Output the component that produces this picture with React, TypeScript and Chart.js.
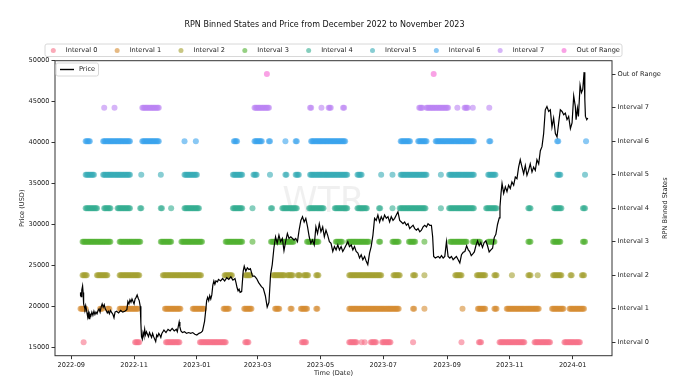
import React, { useEffect, useRef } from 'react';
import { Chart, registerables } from 'chart.js';

Chart.register(...registerables);

// ---------- DATA ----------
const TITLE = 'RPN Binned States and Price from December 2022 to November 2023';
const X_TITLE = 'Time (Date)';
const Y_TITLE = 'Price (USD)';
const Y2_TITLE = 'RPN Binned States';
const WATERMARK = 'WTR';

const STATE_LABELS = ['Interval 0', 'Interval 1', 'Interval 2', 'Interval 3', 'Interval 4', 'Interval 5', 'Interval 6', 'Interval 7', 'Out of Range'];
const STATE_COLORS = ['#f77189', '#d58c32', '#a4a031', '#50b131', '#34ae91', '#37abb5', '#3ba3ec', '#bb83f4', '#f564d4'];

// x values are days since 2022-09-01
const X_TICK_LABELS = ['2022-09', '2022-11', '2023-01', '2023-03', '2023-05', '2023-07', '2023-09', '2023-11', '2024-01'];
const X_TICK_DAYS = [0, 61, 122, 181, 242, 303, 365, 426, 487];
const X_RANGE = [-15.8, 525.2];

const PRICE_TICKS = [15000, 20000, 25000, 30000, 35000, 40000, 45000, 50000];
const PRICE_RANGE = [13975, 50000];
const STATE_RANGE = [-0.4, 8.4];

// [day, price USD]
const PRICE_SERIES = [
  [8.5, 21300], [9, 21700], [9.6, 21200], [10.2, 22000], [11, 22500], [11.5, 21700], [12, 20300], [12.6, 20000],
  [13.3, 19700], [14, 20100], [15, 19400], [16, 18700], [16.6, 19200], [17.3, 18500], [18, 19100], [19, 18800],
  [20, 19300], [21, 18900], [22, 19400], [23, 19000], [24, 19300], [25, 19100], [26, 19500], [27, 19700],
  [28, 19300], [29, 19900], [30, 20300], [31, 19900], [32, 20200], [33, 19700], [34, 19500], [35, 19200],
  [36, 19400], [37, 19100], [38, 19500], [39, 19300], [40.5, 19000], [41.5, 18600], [42.5, 19300], [44, 19400],
  [46, 19200], [48, 19500], [50, 19300], [52, 19400], [54, 19600], [55, 20600], [56, 20300], [57, 20800],
  [58, 20500], [59, 20900], [60, 20600], [61, 20300], [62, 20900], [63, 21100], [64, 21400], [65, 21000],
  [66, 20700], [67, 20000], [67.6, 18000], [68.2, 16300], [69, 16000], [69.7, 16800], [70.5, 16400], [71.3, 17200],
  [72, 16500], [73, 16900], [74, 16600], [75, 16300], [76, 16800], [77, 16500], [78, 16200], [79, 16700],
  [80, 16300], [81, 16000], [82, 15700], [83, 16500], [84, 16300], [85, 16700], [86, 16500], [87, 16200],
  [88, 16700], [89, 16900], [90, 17100], [92, 16800], [94, 17200], [96, 17000], [98, 17300], [100, 17000],
  [102, 17200], [103, 16900], [104, 17600], [104.8, 18100], [105.5, 17500], [106.5, 17000], [108, 16800], [110, 16900],
  [112, 16700], [114, 16800], [116, 16700], [118, 16800], [120, 16600], [122, 16500], [124, 16700], [126, 16800],
  [127.5, 17000], [128.5, 17600], [129.5, 18200], [130.5, 19400], [131.5, 20700], [132.5, 21100], [133.5, 20700], [134.5, 21300],
  [135.5, 20900], [136.5, 21400], [137.5, 22600], [138.5, 23100], [139.5, 22700], [140.5, 23100], [142, 23000], [143, 23300],
  [145, 23100], [147, 23400], [149, 23100], [151, 23500], [153, 23300], [155, 23600], [157, 23200], [159, 23400],
  [160, 22900], [161, 22300], [162, 21900], [163, 22100], [164, 21700], [165.5, 21800], [167, 24300], [168, 24900],
  [169.5, 24300], [171, 24700], [172.5, 24500], [174, 24600], [176, 23700], [178, 23700], [180, 23400], [182, 22900],
  [184.7, 22400], [186.5, 22200], [188.5, 21300], [190.3, 19900], [192, 20500], [193.6, 23900], [195.2, 25100], [196.8, 27100],
  [198.4, 28500], [200, 27700], [201.7, 28700], [203.3, 27900], [205, 28300], [206.6, 26800], [208.2, 27900], [209.9, 28900],
  [211.5, 28300], [213.2, 28500], [216.4, 28100], [218, 28300], [219.7, 27900], [221.3, 29300], [223, 30500], [224.6, 30950],
  [226.2, 30300], [227.8, 30750], [229.5, 29700], [231.1, 28500], [232.7, 27700], [234.3, 28100], [236, 27500], [237.6, 29700],
  [239.2, 28900], [240.9, 30100], [242.5, 29100], [244.2, 29700], [245.8, 28500], [247.4, 29300], [249, 28700], [250.7, 27900],
  [252.3, 27700], [254, 26700], [255.6, 27300], [257.2, 26900], [258.9, 27500], [260.5, 26900], [262.1, 27300], [263.7, 26700],
  [265.4, 27100], [267, 27500], [268.6, 27900], [270.2, 27300], [271.9, 27500], [273.5, 26900], [275.1, 27300], [276.7, 26700],
  [278.4, 26500], [280, 25900], [281.6, 26300], [283.2, 25700], [284.9, 26100], [286.5, 25500], [288, 25100], [289.7, 26500],
  [291.3, 27300], [293, 28700], [294.6, 30750], [296.2, 30500], [297.8, 31150], [299.5, 30300], [301.1, 30950], [302.7, 30500],
  [304.3, 31150], [306, 30750], [307.6, 30950], [309.2, 30300], [310.8, 30950], [312.5, 30500], [314.1, 30750], [315.7, 31150],
  [317.3, 31550], [319, 30500], [320.6, 30300], [322.2, 30100], [323.8, 30300], [325.5, 29900], [327.1, 30100], [328.7, 29500],
  [330.3, 29700], [332, 29900], [333.6, 29500], [335.2, 29300], [336.8, 29500], [338.5, 29100], [340.1, 29300], [341.7, 29700],
  [343.3, 29900], [345, 29700], [346.5, 30100], [348.2, 29900], [349.8, 29900], [351, 28500], [352, 26100], [353.6, 25900],
  [356.3, 26100], [358, 25900], [359.6, 26200], [361.2, 25900], [362.8, 26100], [364.4, 27900], [366, 26100], [367.7, 25900],
  [369.3, 26100], [370.9, 25700], [372.5, 25900], [374.1, 26100], [375.8, 25700], [377.4, 25300], [379, 26300], [380.7, 26600],
  [382.3, 26700], [384, 27400], [385.6, 26900], [387, 26700], [388.5, 26200], [390, 26400], [391.5, 26650], [393, 27400],
  [394.6, 28000], [396.2, 27400], [397.8, 27800], [399.4, 27200], [401, 27800], [402.7, 28000], [404.3, 27400], [405.9, 26650],
  [407.6, 26900], [409.2, 27100], [410.8, 28400], [412.4, 28800], [414, 30000], [415.7, 30800], [416.4, 32170], [417.4, 33800],
  [418.4, 35000], [420, 33800], [421.6, 34600], [423.2, 34000], [424.8, 34800], [426.4, 34400], [428, 35200], [429.7, 34800],
  [431.3, 35800], [432.9, 35600], [434.5, 37000], [436.1, 37900], [437.8, 37000], [439.4, 36200], [441, 37200], [442.6, 36000],
  [444.2, 36600], [445.8, 37400], [447.5, 36400], [449.1, 37000], [450.7, 36600], [452.3, 37900], [454, 37400], [455.6, 39000],
  [457.2, 39500], [458.8, 41100], [460.4, 44000], [462, 44400], [463.7, 43800], [465.3, 44000], [466.9, 41900], [468.5, 43000],
  [470.2, 41100], [471.8, 40700], [473.4, 42400], [475, 44000], [476.7, 43800], [478.3, 43400], [479.9, 43600], [481.5, 42800],
  [483.1, 43200], [484.8, 41700], [486.4, 42400], [488, 45700], [489.6, 44400], [490.3, 42800], [491.6, 44200], [492.6, 43200],
  [494.2, 47000], [495.5, 46100], [496.8, 46500], [498.1, 48600], [498.8, 45300], [499.4, 43200], [500.7, 42800], [501.7, 43000],
];

// Binned states: runs of days [first, last] spent in each state
const INTERVAL_0_RUNS = [[12, 12], [62, 66], [92, 105], [125, 150], [169, 172], [224, 228], [270, 277], [282, 282], [285, 285], [291, 296], [302, 310], [332, 332], [379, 379], [396, 398], [416, 440], [450, 465], [479, 494]];
const INTERVAL_1_RUNS = [[9, 14], [28, 30], [35, 37], [47, 65], [91, 106], [118, 129], [148, 153], [168, 175], [198, 202], [213, 214], [223, 229], [238, 239], [270, 318], [332, 333], [343, 343], [380, 380], [395, 402], [411, 413], [423, 454], [467, 478], [484, 498]];
const INTERVAL_2_RUNS = [[11, 15], [25, 35], [47, 66], [89, 126], [149, 156], [169, 174], [196, 207], [210, 215], [220, 222], [226, 230], [238, 240], [270, 301], [313, 319], [332, 334], [343, 343], [373, 379], [394, 402], [411, 413], [428, 428], [444, 446], [453, 453], [468, 476], [485, 486], [496, 498]];
const INTERVAL_3_RUNS = [[11, 38], [47, 67], [87, 97], [107, 127], [150, 166], [176, 176], [194, 216], [229, 240], [257, 263], [269, 289], [299, 300], [312, 318], [328, 334], [343, 343], [368, 384], [390, 397], [405, 411], [444, 446], [468, 475], [497, 499]];
const INTERVAL_4_RUNS = [[14, 25], [32, 38], [45, 57], [67, 68], [87, 88], [97, 97], [110, 124], [157, 166], [176, 176], [194, 195], [205, 219], [231, 245], [256, 268], [278, 287], [299, 300], [312, 312], [319, 344], [359, 359], [367, 391], [403, 413], [444, 446], [469, 476], [497, 499]];
const INTERVAL_5_RUNS = [[14, 22], [31, 57], [68, 68], [87, 87], [110, 122], [157, 166], [177, 180], [193, 193], [208, 209], [218, 221], [232, 268], [278, 282], [301, 301], [312, 312], [320, 345], [359, 359], [367, 391], [405, 412], [472, 475], [499, 499]];
const INTERVAL_6_RUNS = [[14, 18], [31, 57], [69, 85], [110, 110], [121, 121], [158, 161], [178, 185], [192, 193], [208, 208], [218, 219], [233, 266], [320, 329], [337, 345], [354, 391], [406, 407], [472, 473], [500, 500]];
const INTERVAL_7_RUNS = [[32, 32], [42, 42], [69, 85], [178, 192], [232, 233], [243, 243], [250, 252], [264, 265], [338, 341], [345, 366], [375, 375], [382, 385], [390, 390], [406, 406]];
const OUT_OF_RANGE_RUNS = [[190, 190], [352, 352]];

const STATE_RUNS = [INTERVAL_0_RUNS, INTERVAL_1_RUNS, INTERVAL_2_RUNS, INTERVAL_3_RUNS, INTERVAL_4_RUNS, INTERVAL_5_RUNS, INTERVAL_6_RUNS, INTERVAL_7_RUNS, OUT_OF_RANGE_RUNS];

// ---------- STYLE ----------
const FONT = '"DejaVu Sans", sans-serif';
const TEXT = '#222';
const AXIS = '#333';

function withAlpha(hex: string, a: number) {
  const n = parseInt(hex.slice(1), 16);
  return `rgba(${(n >> 16) & 255},${(n >> 8) & 255},${n & 255},${a})`;
}

function runsToPoints(runs: number[][], state: number) {
  const pts: { x: number; y: number }[] = [];
  for (const [a, b] of runs) for (let d = a; d <= b; d += 1) pts.push({ x: d, y: state });
  return pts;
}

function roundRect(ctx: CanvasRenderingContext2D, x: number, y: number, w: number, h: number, r: number) {
  ctx.beginPath();
  ctx.moveTo(x + r, y);
  ctx.lineTo(x + w - r, y);
  ctx.arcTo(x + w, y, x + w, y + r, r);
  ctx.lineTo(x + w, y + h - r);
  ctx.arcTo(x + w, y + h, x + w - r, y + h, r);
  ctx.lineTo(x + r, y + h);
  ctx.arcTo(x, y + h, x, y + h - r, r);
  ctx.lineTo(x, y + r);
  ctx.arcTo(x, y, x + r, y, r);
  ctx.closePath();
}

const watermarkPlugin = {
  id: 'watermark',
  beforeDatasetsDraw(chart: any) {
    const { ctx, chartArea } = chart;
    ctx.save();
    ctx.font = `36px ${FONT}`;
    ctx.fillStyle = 'rgba(0,0,0,0.06)';
    ctx.textAlign = 'center';
    ctx.textBaseline = 'middle';
    ctx.fillText(WATERMARK, (chartArea.left + chartArea.right) / 2 - 10, 203);
    ctx.restore();
  },
};

const framePlugin = {
  id: 'frame',
  afterDatasetsDraw(chart: any) {
    const { ctx, chartArea } = chart;
    ctx.save();
    ctx.strokeStyle = AXIS;
    ctx.lineWidth = 1;
    ctx.strokeRect(chartArea.left, chartArea.top, chartArea.right - chartArea.left, chartArea.bottom - chartArea.top);
    ctx.restore();
  },
};

const textPlugin = {
  id: 'texts',
  afterDraw(chart: any) {
    const { ctx, chartArea } = chart;
    const midY = (chartArea.top + chartArea.bottom) / 2;
    ctx.save();
    ctx.fillStyle = '#111';
    ctx.textAlign = 'center';
    ctx.textBaseline = 'middle';
    ctx.font = `8px ${FONT}`;
    ctx.fillText(TITLE, 324.5, 25);

    ctx.fillStyle = TEXT;
    ctx.font = `6.6px ${FONT}`;
    ctx.fillText(X_TITLE, (chartArea.left + chartArea.right) / 2, 373.5);

    ctx.save();
    ctx.translate(22.5, midY);
    ctx.rotate(-Math.PI / 2);
    ctx.fillText(Y_TITLE, 0, 0);
    ctx.restore();

    ctx.save();
    ctx.translate(665.5, midY);
    ctx.rotate(-Math.PI / 2);
    ctx.fillText(Y2_TITLE, 0, 0);
    ctx.restore();

    // top legend
    ctx.fillStyle = 'rgba(255,255,255,0.85)';
    ctx.strokeStyle = '#d8d8d8';
    ctx.lineWidth = 1;
    roundRect(ctx, 45, 44, 577, 12.5, 2);
    ctx.fill();
    ctx.stroke();
    ctx.textAlign = 'left';
    STATE_LABELS.forEach((lab, i) => {
      const mx = 53.3 + i * 63.84;
      ctx.fillStyle = withAlpha(STATE_COLORS[i], 0.6);
      ctx.beginPath();
      ctx.arc(mx, 50.5, 2.5, 0, Math.PI * 2);
      ctx.fill();
      ctx.fillStyle = TEXT;
      ctx.fillText(lab, mx + 12.5, 50.5);
    });

    // price legend
    ctx.fillStyle = 'rgba(255,255,255,0.85)';
    ctx.strokeStyle = '#d8d8d8';
    roundRect(ctx, 56, 63, 42.5, 13, 2);
    ctx.fill();
    ctx.stroke();
    ctx.strokeStyle = '#000';
    ctx.lineWidth = 1.4;
    ctx.beginPath();
    ctx.moveTo(60, 69.5);
    ctx.lineTo(74, 69.5);
    ctx.stroke();
    ctx.fillStyle = TEXT;
    ctx.fillText('Price', 79, 69.5);
    ctx.restore();
  },
};

export default function App() {
  const ref = useRef<HTMLCanvasElement>(null);

  useEffect(() => {
    const canvas = ref.current;
    if (!canvas) return;
    const tickFont = { family: FONT, size: 6.6 };
    const grid = { drawOnChartArea: false, drawTicks: true, tickLength: 3.5, color: AXIS, lineWidth: 1 };

    const priceDataset: any = {
      type: 'line',
      label: 'Price',
      data: PRICE_SERIES.map(([x, y]) => ({ x, y })),
      borderColor: '#000',
      borderWidth: 1.2,
      pointRadius: 0,
      tension: 0,
      yAxisID: 'y',
      order: 0,
    };
    const stateDatasets: any[] = STATE_RUNS.map((runs, i) => ({
      type: 'scatter',
      label: STATE_LABELS[i],
      data: runsToPoints(runs, i),
      backgroundColor: withAlpha(STATE_COLORS[i], 0.6),
      borderWidth: 0,
      pointRadius: 3,
      yAxisID: 'y2',
      order: 1,
    }));

    const chart = new Chart(canvas, {
      type: 'scatter',
      data: { datasets: [priceDataset, ...stateDatasets] },
      options: {
        animation: false,
        responsive: false,
        devicePixelRatio: 1,
        layout: { padding: { top: 60.7, left: 0, right: 0, bottom: 0 } },
        plugins: { legend: { display: false }, title: { display: false }, tooltip: { enabled: false } },
        scales: {
          x: {
            type: 'linear',
            position: 'bottom',
            min: X_RANGE[0],
            max: X_RANGE[1],
            afterBuildTicks: (s: any) => { s.ticks = X_TICK_DAYS.map((v) => ({ value: v })); },
            afterFit: (s: any) => { s.height = 35.3; },
            ticks: { autoSkip: false, maxRotation: 0, font: tickFont, color: TEXT, padding: 2, callback: (_v: any, i: number) => X_TICK_LABELS[i] },
            grid,
            border: { display: false },
          },
          y: {
            type: 'linear',
            position: 'left',
            min: PRICE_RANGE[0],
            max: PRICE_RANGE[1],
            afterBuildTicks: (s: any) => { s.ticks = PRICE_TICKS.map((v) => ({ value: v })); },
            afterFit: (s: any) => { s.width = 55; },
            ticks: { autoSkip: false, font: tickFont, color: TEXT, padding: 2, callback: (v: any) => String(v) },
            grid,
            border: { display: false },
          },
          y2: {
            type: 'linear',
            position: 'right',
            min: STATE_RANGE[0],
            max: STATE_RANGE[1],
            afterBuildTicks: (s: any) => { s.ticks = STATE_LABELS.map((_l, i) => ({ value: i })); },
            afterFit: (s: any) => { s.width = 74; },
            ticks: { autoSkip: false, font: tickFont, color: TEXT, padding: 2, callback: (v: any) => STATE_LABELS[Math.round(v)] },
            grid,
            border: { display: false },
          },
        },
      } as any,
      plugins: [watermarkPlugin, framePlugin, textPlugin],
    });
    return () => chart.destroy();
  }, []);

  return (
    <div style={{ position: 'fixed', left: 0, top: 0, width: 686, height: 391, background: '#fff' }}>
      <canvas ref={ref} width={686} height={391} style={{ width: 686, height: 391, display: 'block' }} />
    </div>
  );
}
